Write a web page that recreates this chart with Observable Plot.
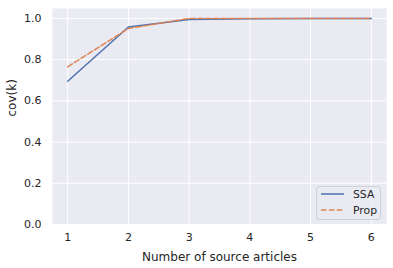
<!DOCTYPE html>
<html><head><meta charset="utf-8">
<script src="https://cdn.jsdelivr.net/npm/d3@7"></script>
<script src="https://cdn.jsdelivr.net/npm/@observablehq/plot@0.6"></script>
<style>
body{margin:0;background:#fff;}
#wrap{position:relative;width:393px;height:268px;font-family:"DejaVu Sans",sans-serif;}
#legend{position:absolute;left:316px;top:186px;width:65px;height:34px;box-sizing:border-box;background:rgba(234,234,242,0.8);border:1px solid #cfcfd6;border-radius:3px;font-size:10.8px;color:#262626;}
.row{position:absolute;left:4px;height:14px;display:flex;align-items:center;}
.row span{margin-left:9px;}
</style>
</head><body>
<div id="wrap"><div id="legend"></div></div>
<script>
const articles = [1, 2, 3, 4, 5, 6];
const ssa = [0.695, 0.958, 0.995, 0.998, 0.999, 1.0];
const prop = [0.765, 0.951, 1.0, 1.0, 1.0, 1.0];
const seriesNames = ["SSA", "Prop"];
const colors = ["#4C72B0", "#DD8452"];
const dashes = [null, "5.5,2.4"];
const yTicks = [0, 0.2, 0.4, 0.6, 0.8, 1.0];

const data = [
  ...articles.map((k, i) => ({k, v: ssa[i], s: "SSA"})),
  ...articles.map((k, i) => ({k, v: prop[i], s: "Prop"}))
];

const chart = Plot.plot({
  width: 393, height: 268,
  marginLeft: 52, marginRight: 7, marginTop: 8, marginBottom: 44,
  style: {fontFamily: "DejaVu Sans, sans-serif", fontSize: "11px", color: "#262626", background: "white"},
  x: {domain: [0.75, 6.25], ticks: articles, tickFormat: d => d},
  y: {domain: [0, 1.048], ticks: yTicks, tickFormat: d3.format(".1f")},
  marks: [
    Plot.frame({fill: "#EAEAF2", stroke: null}),
    Plot.gridX(articles, {stroke: "white", strokeOpacity: 1, strokeWidth: 1}),
    Plot.gridY(yTicks, {stroke: "white", strokeOpacity: 1, strokeWidth: 1}),
    Plot.axisX(articles, {tickSize: 0, tickPadding: 9, label: null, fontSize: 11}),
    Plot.axisY(yTicks, {tickSize: 0, tickPadding: 11, label: null, tickFormat: d3.format(".1f"), fontSize: 11}),
    Plot.text(["Number of source articles"], {frameAnchor: "bottom", dy: 36, fontSize: 12, fill: "#262626"}),
    Plot.text(["cov(k)"], {frameAnchor: "left", dx: -40, rotate: -90, fontSize: 12, fill: "#262626"}),
    Plot.line(data.filter(d => d.s === "SSA"), {x: "k", y: "v", stroke: colors[0], strokeWidth: 1.5}),
    Plot.line(data.filter(d => d.s === "Prop"), {x: "k", y: "v", stroke: colors[1], strokeWidth: 1.5, strokeDasharray: dashes[1]})
  ]
});
document.getElementById("wrap").prepend(chart);

const leg = document.getElementById("legend");
seriesNames.forEach((name, i) => {
  const row = document.createElement("div");
  row.className = "row";
  row.style.top = (i === 0 ? 0 : 16) + "px";
  row.innerHTML = `<svg width="23" height="4"><line x1="0" y1="2" x2="23" y2="2" stroke="${colors[i]}" stroke-width="1.5" ${dashes[i] ? `stroke-dasharray="${dashes[i]}"` : ""}/></svg><span>${name}</span>`;
  leg.appendChild(row);
});
</script>
</body></html>
